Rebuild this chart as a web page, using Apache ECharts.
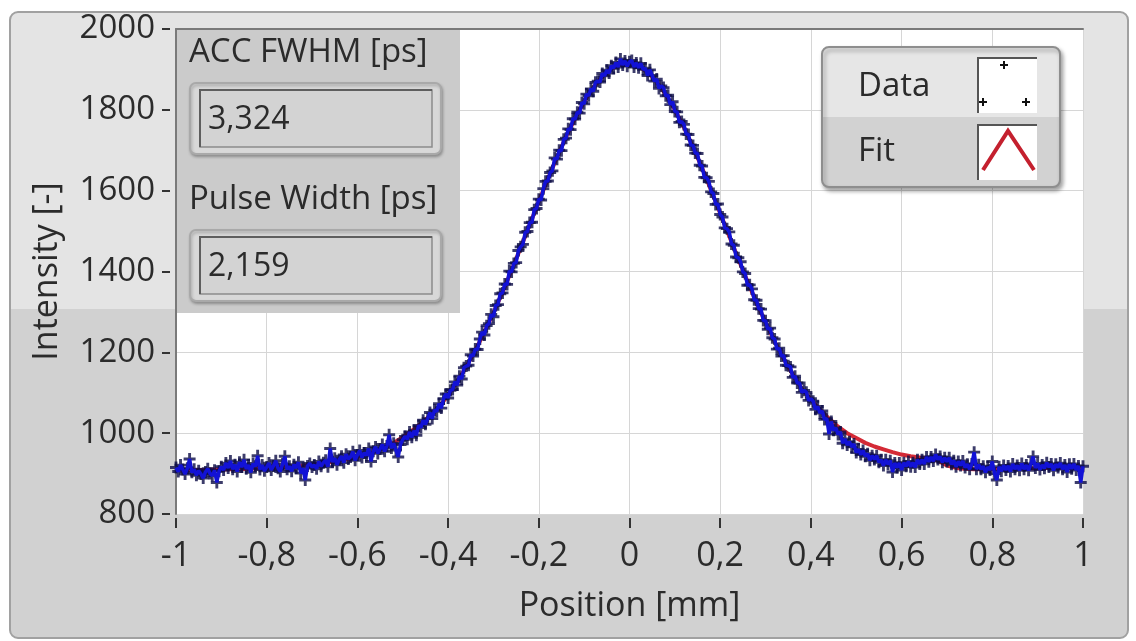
<!DOCTYPE html>
<html>
<head>
<meta charset="utf-8">
<title>Autocorrelation trace</title>
<script src="https://cdn.jsdelivr.net/npm/echarts@6/dist/echarts.min.js"></script>
<style>
  html, body { margin: 0; padding: 0; background: #ffffff; }
  #chart { width: 1136px; height: 641px; }
</style>
</head>
<body>
<div id="chart"></div>
<script>
// Measured autocorrelation trace: intensity sampled every 0.005 mm from -1 to 1 mm
const positionStart = -1;
const positionStep = 0.005;
const dataIntensity = [
  915, 905, 921, 910, 899, 913, 936, 903, 911, 896, 907,
  899, 889, 904, 912, 900, 895, 908, 878, 906, 917,
  909, 926, 914, 931, 911, 922, 905, 928, 916, 934,
  912, 921, 903, 925, 918, 944, 910, 921, 907, 916,
  926, 909, 919, 932, 913, 905, 924, 943, 911, 918,
  906, 922, 914, 928, 901, 913, 884, 919, 925, 916,
  921, 912, 930, 918, 927, 933, 917, 962, 929, 938,
  922, 935, 943, 927, 948, 936, 941, 954, 933, 946,
  957, 940, 951, 945, 962, 930, 955, 966, 950, 961,
  972, 955, 968, 996, 963, 975, 958, 941, 972, 984,
  992, 985, 1003, 990, 1006, 995, 1019, 1014, 1032, 1022,
  1036, 1051, 1036, 1057, 1054, 1073, 1062, 1085, 1097, 1087,
  1106, 1108, 1127, 1119, 1141, 1134, 1162, 1166, 1168, 1194,
  1191, 1208, 1207, 1233, 1250, 1243, 1266, 1271, 1294, 1288,
  1316, 1318, 1345, 1347, 1369, 1368, 1401, 1399, 1420, 1422,
  1452, 1461, 1467, 1497, 1499, 1521, 1522, 1553, 1556, 1579,
  1577, 1605, 1623, 1624, 1645, 1649, 1681, 1678, 1700, 1699,
  1727, 1730, 1753, 1751, 1778, 1777, 1794, 1792, 1818, 1815,
  1839, 1835, 1852, 1846, 1868, 1871, 1869, 1890, 1884, 1898,
  1891, 1909, 1903, 1917, 1906, 1926, 1911, 1921, 1908, 1919,
  1922, 1906, 1916, 1904, 1915, 1900, 1903, 1885, 1899, 1885,
  1871, 1876, 1853, 1859, 1855, 1835, 1836, 1813, 1820, 1796,
  1795, 1769, 1771, 1764, 1740, 1739, 1713, 1712, 1693, 1692,
  1663, 1661, 1633, 1632, 1623, 1597, 1593, 1566, 1567, 1541,
  1535, 1508, 1506, 1498, 1468, 1465, 1436, 1434, 1424, 1399,
  1395, 1366, 1367, 1357, 1330, 1329, 1308, 1307, 1279, 1278,
  1257, 1260, 1236, 1233, 1208, 1210, 1191, 1192, 1168, 1167,
  1164, 1138, 1141, 1124, 1124, 1101, 1106, 1101, 1081, 1085,
  1079, 1059, 1066, 1050, 1055, 1034, 1036, 998, 1029, 1007,
  1013, 997, 1003, 975, 986, 971, 979, 966, 973, 952,
  960, 947, 957, 943, 949, 933, 944, 935, 944, 928,
  934, 920, 934, 923, 932, 904, 926, 915, 926, 909,
  927, 918, 930, 917, 927, 916, 934, 924, 934, 924,
  941, 929, 941, 931, 947, 935, 942, 928, 939, 930,
  939, 923, 932, 917, 930, 920, 931, 915, 923, 911,
  924, 953, 911, 922, 911, 918, 903, 916, 909, 930,
  900, 884, 917, 906, 920, 909, 919, 905, 924, 911,
  920, 908, 925, 911, 921, 908, 924, 942, 914, 925,
  910, 921, 913, 927, 916, 924, 908, 923, 915, 926,
  911, 921, 904, 923, 912, 924, 909, 919, 878, 918
];

// Fitted curve, every 0.02 mm from -1 to 1 mm
const fitStep = 0.02;
const fitIntensity = [
  910, 909, 909, 909, 910, 910, 911, 911, 912, 913,
  914, 915, 916, 918, 920, 922, 925, 928, 932, 936,
  941, 947, 955, 964, 976, 990, 1006, 1024, 1043, 1065,
  1094, 1127, 1164, 1205, 1250, 1298, 1349, 1403, 1459, 1516,
  1573, 1629, 1682, 1733, 1779, 1820, 1855, 1882, 1902, 1912,
  1915, 1908, 1893, 1869, 1838, 1800, 1757, 1708, 1656, 1601,
  1544, 1487, 1431, 1376, 1323, 1274, 1227, 1184, 1145, 1110,
  1084, 1058, 1036, 1016, 1000, 988, 976, 967, 960, 953,
  947, 943, 940, 938, 932, 920, 914, 912, 911, 911,
  911, 912, 912, 913, 913, 913, 914, 914, 914, 914,
  914
];

// Axis ranges and readouts
const xRange = [-1, 1, 0.2];
const yRange = [800, 2000, 200];
const readoutLabels = ['ACC FWHM [ps]', 'Pulse Width [ps]'];
const readoutValues = ['3,324', '2,159'];
const legendNames = ['Data', 'Fit'];

const dataPoints = dataIntensity.map((v, i) => [positionStart + i * positionStep, v]);
const fitPoints = fitIntensity.map((v, i) => [positionStart + i * fitStep, v]);

const FONT = '"Open Sans", "Noto Sans", sans-serif';
const TEXT = '#2b2b2b';
const fmtDecimal = v => {
  const r = Math.round(v * 10) / 10;
  return String(r).replace('.', ',');
};
const fmtPlain = v => String(Math.round(v));

// "+" marker, arms 2.4/10 of the symbol size
const crossPath = 'path://M3.8,0H6.2V3.8H10V6.2H6.2V10H3.8V6.2H0V3.8H3.8Z';

const chart = echarts.init(document.getElementById('chart'), null, { renderer: 'canvas' });

function crossShape(cx, cy, s, color) {
  return {
    type: 'polygon', z: 31,
    shape: { points: [
      [cx - 1, cy - s], [cx + 1, cy - s], [cx + 1, cy - 1], [cx + s, cy - 1], [cx + s, cy + 1],
      [cx + 1, cy + 1], [cx + 1, cy + s], [cx - 1, cy + s], [cx - 1, cy + 1], [cx - s, cy + 1],
      [cx - s, cy - 1], [cx - 1, cy - 1]
    ] },
    style: { fill: color }
  };
}

const textStyle = (text, size) => ({
  text, font: size + 'px ' + FONT, fill: TEXT,
  align: 'left', verticalAlign: 'middle', textAlign: 'left', textVerticalAlign: 'middle'
});

const readoutBox = (label, value, top) => [
  { type: 'text', z: 21, x: 189, y: top + 24, style: textStyle(label, 33) },
  { type: 'rect', z: 21, shape: { x: 190, y: top + 54, width: 251, height: 71, r: 6 },
    style: { fill: '#d8d8d8', stroke: '#a9a9a9', lineWidth: 2, shadowBlur: 3, shadowOffsetX: 1, shadowOffsetY: 2, shadowColor: 'rgba(0,0,0,0.25)' } },
  { type: 'rect', z: 22, shape: { x: 200, y: top + 61, width: 232, height: 57 },
    style: { fill: '#d3d3d3', stroke: '#8c8c8c', lineWidth: 1.5 } },
  { type: 'polyline', z: 23, shape: { points: [[200, top + 118], [200, top + 61], [432, top + 61]] },
    style: { stroke: '#5e5e5e', lineWidth: 2, fill: null } },
  { type: 'text', z: 23, x: 208, y: top + 91, style: textStyle(value, 32) }
];

const option = {
  animation: false,
  backgroundColor: '#ffffff',
  grid: { left: 176, top: 29, width: 907, height: 485, show: true, backgroundColor: '#ffffff', borderWidth: 0 },
  xAxis: [
    {
      type: 'value', min: xRange[0], max: xRange[1], interval: xRange[2], position: 'bottom', offset: 4,
      name: 'Position [mm]', nameLocation: 'middle', nameGap: 71,
      nameTextStyle: { fontFamily: FONT, fontSize: 34, color: TEXT },
      axisLine: { show: false, onZero: false },
      axisTick: { show: true, length: 10, lineStyle: { color: '#333', width: 2 } },
      axisLabel: { formatter: fmtDecimal, fontFamily: FONT, fontSize: 34, color: TEXT, margin: 21 },
      splitLine: { show: true, lineStyle: { color: '#d6d6d6', width: 1 } }
    },
    {
      type: 'value', min: xRange[0], max: xRange[1], position: 'top',
      axisLine: { show: true, onZero: false, lineStyle: { color: '#7a7a7a', width: 2 } },
      axisTick: { show: false }, axisLabel: { show: false }, splitLine: { show: false }
    }
  ],
  yAxis: [
    {
      type: 'value', min: yRange[0], max: yRange[1], interval: yRange[2], position: 'left', offset: 6,
      name: 'Intensity [-]', nameLocation: 'middle', nameRotate: 90, nameGap: 106,
      nameTextStyle: { fontFamily: FONT, fontSize: 34, color: TEXT },
      axisLine: { show: false, onZero: false },
      axisTick: { show: true, length: 8, lineStyle: { color: '#333', width: 2 } },
      axisLabel: { formatter: fmtPlain, fontFamily: FONT, fontSize: 33, color: TEXT, margin: 15 },
      splitLine: { show: true, lineStyle: { color: '#d6d6d6', width: 1 } }
    },
    {
      type: 'value', min: yRange[0], max: yRange[1], position: 'left',
      axisLine: { show: true, onZero: false, lineStyle: { color: '#7a7a7a', width: 2 } },
      axisTick: { show: false }, axisLabel: { show: false }, splitLine: { show: false }
    }
  ],
  series: [
    {
      name: 'Fit', type: 'line', xAxisIndex: 0, yAxisIndex: 0, z: 2,
      data: fitPoints, showSymbol: false, smooth: false,
      lineStyle: { color: '#d42a36', width: 4 }
    },
    {
      name: 'Data', type: 'scatter', xAxisIndex: 0, yAxisIndex: 0, z: 3,
      data: dataPoints, symbol: crossPath, symbolSize: 12,
      itemStyle: { color: '#0c0c46' }
    },
    {
      name: 'Data', type: 'line', xAxisIndex: 0, yAxisIndex: 0, z: 4,
      data: dataPoints, showSymbol: false,
      lineStyle: { color: '#1212d6', width: 3.5 }
    }
  ],
  graphic: [
    // outer frame with two-tone background
    { type: 'rect', z: -10, shape: { x: 10, y: 12, width: 1118, height: 626, r: 8 },
      style: {
        fill: new echarts.graphic.LinearGradient(0, 0, 0, 1, [
          { offset: 0, color: '#e4e4e4' }, { offset: 0.474, color: '#e4e4e4' },
          { offset: 0.474, color: '#d1d1d1' }, { offset: 1, color: '#d1d1d1' }
        ]),
        stroke: '#a1a1a1', lineWidth: 2
      } },
    // readout panel
    { type: 'rect', z: 20, shape: { x: 177, y: 30, width: 283, height: 283 }, style: { fill: '#cbcbcb' } },
    ...readoutBox(readoutLabels[0], readoutValues[0], 29),
    ...readoutBox(readoutLabels[1], readoutValues[1], 176),
    // legend box
    { type: 'rect', z: 30, shape: { x: 822, y: 47, width: 238, height: 140, r: 7 },
      style: {
        fill: new echarts.graphic.LinearGradient(0, 0, 0, 1, [
          { offset: 0, color: '#e6e6e6' }, { offset: 0.5, color: '#e6e6e6' },
          { offset: 0.5, color: '#d2d2d2' }, { offset: 1, color: '#d2d2d2' }
        ]),
        stroke: '#8e8e8e', lineWidth: 2,
        shadowBlur: 4, shadowOffsetX: 2, shadowOffsetY: 3, shadowColor: 'rgba(0,0,0,0.35)'
      } },
    { type: 'text', z: 31, x: 858, y: 87, style: textStyle(legendNames[0], 33) },
    { type: 'text', z: 31, x: 858, y: 152, style: textStyle(legendNames[1], 33) },
    { type: 'rect', z: 31, shape: { x: 978, y: 58, width: 59, height: 55 }, style: { fill: '#ffffff' } },
    { type: 'polyline', z: 31, shape: { points: [[978, 113], [978, 58], [1037, 58]] }, style: { stroke: '#555', lineWidth: 2, fill: null } },
    crossShape(1004, 65, 4, '#111'),
    crossShape(983, 102, 4, '#111'),
    crossShape(1026, 102, 4, '#111'),
    { type: 'rect', z: 31, shape: { x: 978, y: 125, width: 59, height: 55 }, style: { fill: '#ffffff' } },
    { type: 'polyline', z: 31, shape: { points: [[978, 180], [978, 125], [1037, 125]] }, style: { stroke: '#555', lineWidth: 2, fill: null } },
    { type: 'polyline', z: 32, shape: { points: [[983, 170], [1008, 131], [1034, 170]] }, style: { stroke: '#c4202e', lineWidth: 4, fill: null } }
  ]
};

chart.setOption(option);
</script>
</body>
</html>
